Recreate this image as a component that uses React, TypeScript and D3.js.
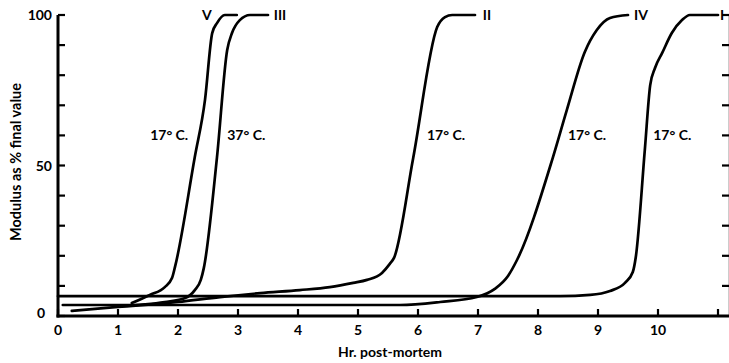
import React from "react";
import * as d3 from "d3";

// Hours post-mortem (x) and modulus as % of final value (y) for each preparation
const curveIHr = [0, 8.37, 8.87, 9.2, 9.45, 9.58, 9.63, 9.78, 9.87, 9.95, 10.07, 10.23, 10.4, 10.53, 11.0];
const curveIPct = [6.6, 6.6, 7.0, 8.3, 11.0, 14.6, 19.6, 55.1, 76.7, 82.4, 87.4, 94.0, 98.3, 100, 100];

const curveIIHr = [0.23, 1.0, 2.0, 2.7, 3.37, 4.03, 4.53, 4.92, 5.15, 5.4, 5.53, 5.6, 5.92, 6.32, 6.45, 6.57, 6.95];
const curveIIPct = [1.7, 3.0, 4.65, 6.3, 7.6, 8.6, 9.6, 11.0, 12.0, 14.3, 17.3, 19.3, 52.5, 96.0, 99.3, 100, 100];

const curveIIIHr = [1.0, 1.78, 2.12, 2.28, 2.38, 2.43, 2.65, 2.82, 2.9, 3.03, 3.2, 3.5];
const curveIIIPct = [3.3, 4.65, 6.0, 8.6, 12.0, 15.9, 52.8, 88.4, 94.0, 98.3, 100, 100];

const curveIVHr = [0.08, 5.7, 6.37, 6.98, 7.28, 7.5, 7.65, 8.25, 8.48, 8.78, 8.98, 9.2, 9.5];
const curveIVPct = [3.65, 3.65, 4.65, 6.3, 9.0, 13.3, 18.6, 52.8, 68.4, 87.7, 95.0, 99.0, 100];

const curveVHr = [1.23, 1.53, 1.78, 1.9, 1.95, 2.28, 2.45, 2.57, 2.65, 2.78, 2.98];
const curveVPct = [4.3, 7.0, 9.6, 12.6, 16.3, 52.8, 71.8, 94.0, 97.3, 100, 100];

const curveNames = ["I", "II", "III", "IV", "V"];
const curveTemps = ["17° C.", "17° C.", "37° C.", "17° C.", "17° C."];

const xTickValues = [0, 1, 2, 3, 4, 5, 6, 7, 8, 9, 10, 11];
const xTickLabels = ["0", "1", "2", "3", "4", "5", "6", "7", "8", "9", "10"];
const yTickValues = [0, 10, 20, 30, 40, 50, 60, 70, 80, 90, 100];
const yTickLabels = ["0", "50", "100"];

const W = 729;
const H = 363;
const FONT = "Lato, 'Open Sans', sans-serif";

// Label placement (pixel offsets from the plateau end; temperature label anchors in hours)
const nameLayout = [
  { dx: 2, anchor: "start" },
  { dx: 12, anchor: "middle" },
  { dx: 12, anchor: "middle" },
  { dx: 13, anchor: "middle" },
  { dx: -30, anchor: "middle" },
];
const tempLayout = [
  { hr: 9.92, anchor: "start" },
  { hr: 6.15, anchor: "start" },
  { hr: 2.82, anchor: "start" },
  { hr: 8.5, anchor: "start" },
  { hr: 2.17, anchor: "end" },
];

export default function App() {
  const x = d3.scaleLinear().domain([0, 11]).range([58, 718]);
  const y = d3.scaleLinear().domain([0, 100]).range([316, 15]);

  const series = [
    [curveIHr, curveIPct],
    [curveIIHr, curveIIPct],
    [curveIIIHr, curveIIIPct],
    [curveIVHr, curveIVPct],
    [curveVHr, curveVPct],
  ];

  const line = d3
    .line<[number, number]>()
    .x((d) => x(d[0]))
    .y((d) => y(d[1]))
    .curve(d3.curveMonotoneX);

  const x0 = x(0);
  const y0 = y(0);

  return (
    <svg
      width={W}
      height={H}
      style={{ position: "absolute", left: 0, top: 0, background: "#fff" }}
      fontFamily={FONT}
      fontWeight={700}
    >
      {/* curves */}
      {series.map(([hr, pct], i) => {
        const pts = hr.map((h, k) => [h, pct[k]] as [number, number]);
        return (
          <path
            key={i}
            d={line(pts) || ""}
            fill="none"
            stroke="#000"
            strokeWidth={2.7}
            strokeLinecap="round"
            strokeLinejoin="round"
          />
        );
      })}

      {/* curve names */}
      {series.map(([hr, pct], i) => {
        const last = hr.length - 1;
        return (
          <text
            key={"n" + i}
            x={x(hr[last]) + nameLayout[i].dx}
            y={y(pct[last]) + 5}
            fontSize={14}
            textAnchor={nameLayout[i].anchor}
          >
            {curveNames[i]}
          </text>
        );
      })}

      {/* temperature labels */}
      {curveTemps.map((t, i) => (
        <text
          key={"t" + i}
          x={x(tempLayout[i].hr)}
          y={y(60) + 5}
          fontSize={14}
          textAnchor={tempLayout[i].anchor}
        >
          {t}
        </text>
      ))}

      {/* y axis */}
      <line x1={x0} x2={x0} y1={y(100)} y2={y0 + 1.5} stroke="#000" strokeWidth={3} />
      {yTickValues.map((v) => (
        <line key={"yt" + v} x1={x0} x2={x0 + 7} y1={y(v)} y2={y(v)} stroke="#000" strokeWidth={2.2} />
      ))}
      {yTickLabels.map((l) => (
        <text
          key={"yl" + l}
          x={l === "0" ? x0 - 13 : x0 - 6}
          y={y(+l) + (l === "0" ? 2 : 5)}
          fontSize={14}
          textAnchor="end"
        >
          {l}
        </text>
      ))}

      {/* right-hand frame ticks */}
      <line x1={728.5} x2={728.5} y1={y(100)} y2={y0} stroke="#ccc" strokeWidth={1} />
      {yTickValues
        .filter((v) => v > 0)
        .map((v) => (
          <line key={"rt" + v} x1={722} x2={729} y1={y(v)} y2={y(v)} stroke="#000" strokeWidth={2.2} />
        ))}

      {/* x axis */}
      <line x1={x0 - 1.5} x2={W} y1={y0} y2={y0} stroke="#000" strokeWidth={3} />
      {xTickValues.map((v) => (
        <line key={"xt" + v} x1={x(v)} x2={x(v)} y1={y0} y2={y0 - 7} stroke="#000" strokeWidth={2.2} />
      ))}
      {xTickLabels.map((l, i) => (
        <text key={"xl" + l} x={x(xTickValues[i])} y={y0 + 19} fontSize={14} textAnchor="middle">
          {l}
        </text>
      ))}

      {/* axis titles */}
      <text x={390} y={357} fontSize={14} textAnchor="middle">
        Hr. post-mortem
      </text>
      <text
        transform={`translate(21, 162) rotate(-90)`}
        fontSize={14.5}
        textAnchor="middle"
      >
        Modulus as % final value
      </text>
    </svg>
  );
}
